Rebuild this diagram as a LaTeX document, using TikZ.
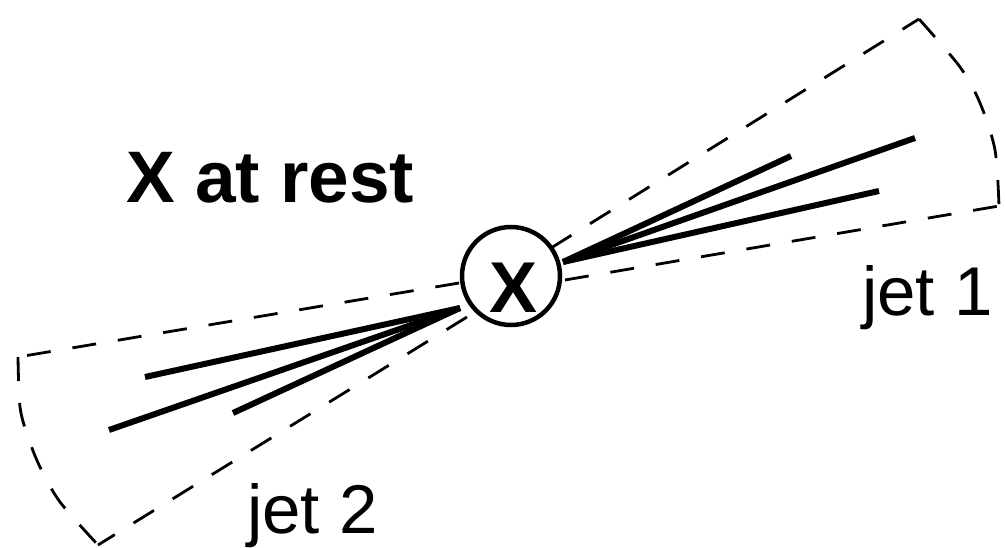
\documentclass[tikz,border=0pt]{standalone}
\usepackage{fontspec}
\setmainfont{Liberation Sans}
\begin{document}
\begin{tikzpicture}[x=1pt,y=-1pt,
  trk/.style={line width=6pt},
  cone/.style={line width=2.8pt,dash pattern=on 24pt off 22pt},
  lbl/.style={inner sep=0pt,anchor=base west,font=\fontsize{69}{80}\selectfont}]
\useasboundingbox (0,0) rectangle (1006,548);
\node[draw,circle,line width=4.5pt,minimum size=98pt,inner sep=0pt] (x) at (511,276) {};
\node[inner sep=0pt,anchor=base,font=\fontsize{72}{80}\selectfont\bfseries] (xl) at (514,312) {X};
% jet 1
\coordinate (a1) at (563,262);
\coordinate (e11) at (915,138);
\coordinate (e12) at (791,156);
\coordinate (e13) at (879,191);
\draw[trk] (a1) -- (e11);
\draw[trk] (a1) -- (e12);
\draw[trk] (a1) -- (e13);
\coordinate (u1) at (551,248);
\coordinate (c1) at (919,19);
\coordinate (l1) at (565,280);
\coordinate (d1) at (999,206);
\draw[cone] (u1) -- (c1);
\draw[cone] (l1) -- (d1);
\draw[cone] plot[smooth] coordinates {(919,19) (960,67) (980,103) (995,150) (999,206)};
% jet 2
\coordinate (a2) at (460,308);
\coordinate (e21) at (145,377);
\coordinate (e22) at (109,430);
\coordinate (e23) at (233,413);
\draw[trk] (a2) -- (e21);
\draw[trk] (a2) -- (e22);
\draw[trk] (a2) -- (e23);
\coordinate (u2) at (459,283);
\coordinate (c2) at (18,357);
\coordinate (l2) at (467,317);
\coordinate (d2) at (98,545);
\draw[cone] (u2) -- (c2);
\draw[cone] (l2) -- (d2);
\draw[cone] plot[smooth] coordinates {(18,357) (20,407) (28,437) (40,467) (60,502) (98,545)};
% labels
\node[lbl,font=\fontsize{73}{80}\selectfont\bfseries] (t) at (126,203) {X at rest};
\node[lbl] (j1) at (862,315) {jet 1};
\node[lbl] (j2) at (247,533) {jet 2};
\end{tikzpicture}
\end{document}
